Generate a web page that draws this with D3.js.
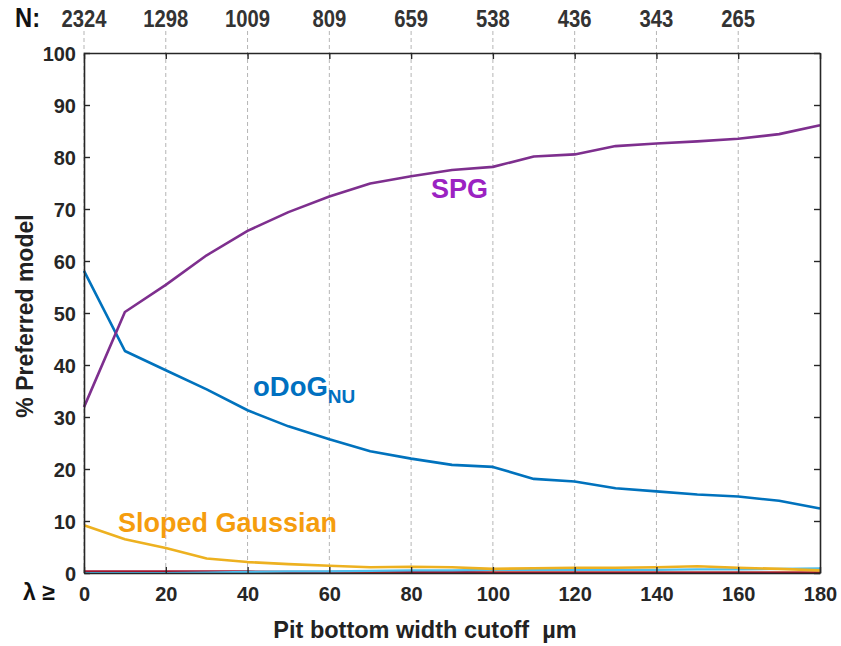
<!DOCTYPE html>
<html>
<head>
<meta charset="utf-8">
<script src="https://cdn.jsdelivr.net/npm/d3@7"></script>
<style>
  html, body { margin: 0; padding: 0; background: #fff; }
  svg { display: block; font-family: "Liberation Sans", Arial, sans-serif; }
</style>
</head>
<body>
<svg id="chart" width="841" height="646"></svg>
<script>
// Pit bottom width cutoff (µm)
const cutoffs = [0, 10, 20, 30, 40, 50, 60, 70, 80, 90, 100, 110, 120, 130, 140, 150, 160, 170, 180];

// % of pits for which each model is preferred
const spg      = [31.9, 50.2, 55.4, 61.1, 65.8, 69.4, 72.4, 74.9, 76.3, 77.5, 78.1, 80.1, 80.5, 82.1, 82.6, 83.0, 83.5, 84.4, 86.1];
const odogNU   = [58.1, 42.7, 39.0, 35.3, 31.3, 28.2, 25.7, 23.4, 22.0, 20.8, 20.4, 18.1, 17.6, 16.3, 15.7, 15.1, 14.7, 13.9, 12.4];
const slopedG  = [9.2, 6.5, 4.8, 2.8, 2.1, 1.7, 1.4, 1.1, 1.2, 1.1, 0.8, 0.9, 1.0, 1.0, 1.1, 1.3, 1.0, 0.8, 0.5];
const lightBlue= [0.0, 0.0, 0.0, 0.1, 0.2, 0.3, 0.3, 0.4, 0.5, 0.5, 0.6, 0.6, 0.6, 0.6, 0.6, 0.7, 0.7, 0.8, 0.9];
const darkRed  = [0.3, 0.3, 0.3, 0.3, 0.3, 0.2, 0.2, 0.3, 0.2, 0.2, 0.1, 0.1, 0.1, 0.1, 0.1, 0.1, 0.1, 0.1, 0.1];
const redOrange= [0.1, 0.1, 0.1, 0.1, 0.1, 0.1, 0.1, 0.1, 0.1, 0.1, 0.1, 0.1, 0.1, 0.1, 0.1, 0.1, 0.1, 0.1, 0.1];
const green    = [0.0, 0.0, 0.0, 0.0, 0.0, 0.0, 0.0, 0.0, 0.0, 0.0, 0.0, 0.0, 0.0, 0.0, 0.0, 0.0, 0.0, 0.0, 0.0];

// Sample counts N at each gridline
const nCutoffs = [0, 20, 40, 60, 80, 100, 120, 140, 160];
const nLabels  = ["2324", "1298", "1009", "809", "659", "538", "436", "343", "265"];

const xTicks = [0, 20, 40, 60, 80, 100, 120, 140, 160, 180];
const yTicks = [0, 10, 20, 30, 40, 50, 60, 70, 80, 90, 100];

const svg = d3.select("#chart");
const m = { left: 84, right: 820, top: 53, bottom: 573 };

const x = d3.scaleLinear().domain([0, 180]).range([m.left, m.right]);
const y = d3.scaleLinear().domain([0, 100]).range([m.bottom, m.top]);

// dashed vertical gridlines, reaching above the box up to the N labels
svg.append("g").selectAll("line")
  .data(xTicks.filter(d => d < 180))
  .join("line")
  .attr("x1", d => x(d)).attr("x2", d => x(d))
  .attr("y1", 31).attr("y2", m.bottom)
  .attr("stroke", "#b5b5b5").attr("stroke-width", 1)
  .attr("stroke-dasharray", "4,3");

// series
const line = vals => d3.line()
  .x((d, i) => x(cutoffs[i]))
  .y(d => y(d))(vals);

const series = [
  { v: green,     c: "#77AC30", w: 2 },
  { v: redOrange, c: "#D95319", w: 2.2 },
  { v: darkRed,   c: "#A2142F", w: 2.2 },
  { v: lightBlue, c: "#4DBEEE", w: 2.2 },
  { v: slopedG,   c: "#EDB120", w: 2.6 },
  { v: odogNU,    c: "#0072BD", w: 2.6 },
  { v: spg,       c: "#7E2F8E", w: 2.6 }
];
svg.append("g").selectAll("path")
  .data(series)
  .join("path")
  .attr("d", s => line(s.v))
  .attr("fill", "none")
  .attr("stroke", s => s.c)
  .attr("stroke-width", s => s.w)
  .attr("stroke-linejoin", "round");

// axes: left and bottom with labels, top and right as plain box sides with inward ticks
const tickCol = "#262626";
const axL = svg.append("g").attr("transform", `translate(${m.left},0)`)
  .call(d3.axisLeft(y).tickValues(yTicks).tickSizeInner(-6).tickSizeOuter(0).tickPadding(8));
const axR = svg.append("g").attr("transform", `translate(${m.right},0)`)
  .call(d3.axisRight(y).tickValues(yTicks).tickSizeInner(-6).tickSizeOuter(0).tickFormat(""));
const axB = svg.append("g").attr("transform", `translate(0,${m.bottom})`)
  .call(d3.axisBottom(x).tickValues(xTicks).tickSizeInner(-6).tickSizeOuter(0).tickPadding(14));
const axT = svg.append("g").attr("transform", `translate(0,${m.top})`)
  .call(d3.axisTop(x).tickValues(xTicks).tickSizeInner(-6).tickSizeOuter(0).tickFormat(""));

[axL, axR, axB, axT].forEach(g => {
  g.select(".domain").attr("stroke", tickCol).attr("stroke-width", 1.6);
  g.selectAll(".tick line").attr("stroke", tickCol).attr("stroke-width", 1.4);
  g.selectAll(".tick text")
    .attr("fill", tickCol)
    .style("font-family", "'Liberation Sans', Arial, sans-serif")
    .style("font-size", "20px")
    .style("font-weight", "bold");
});
axL.selectAll(".tick text").attr("dy", "0.36em");

// λ ≥ marker at the x origin
svg.append("text")
  .attr("x", 23).attr("y", 600)
  .attr("fill", "#111")
  .style("font-size", "23px")
  .style("font-weight", "bold")
  .text("λ ≥");

// N labels along the top, in a condensed face
svg.append("text")
  .attr("transform", "translate(15,27) scale(0.88,1)")
  .attr("fill", "#111")
  .style("font-size", "27px")
  .style("font-weight", "bold")
  .text("N:");
svg.append("g").selectAll("text")
  .data(nCutoffs)
  .join("text")
  .attr("transform", d => `translate(${x(d)},27) scale(0.88,1)`)
  .attr("text-anchor", "middle")
  .attr("fill", "#333")
  .style("font-size", "23px")
  .style("font-weight", "bold")
  .text((d, i) => nLabels[i]);

// axis titles
svg.append("text")
  .attr("x", 425).attr("y", 638)
  .attr("text-anchor", "middle")
  .attr("fill", "#222")
  .style("font-size", "23.5px")
  .style("font-weight", "bold")
  .attr("xml:space", "preserve")
  .text("Pit bottom width cutoff  µm");

svg.append("text")
  .attr("transform", "translate(33,316) rotate(-90)")
  .attr("text-anchor", "middle")
  .attr("fill", "#222")
  .style("font-size", "23px")
  .style("font-weight", "bold")
  .text("% Preferred model");

// series labels
svg.append("text")
  .attr("x", 431).attr("y", 198)
  .attr("fill", "#9B22C2")
  .style("font-size", "27px")
  .style("font-weight", "bold")
  .text("SPG");

const od = svg.append("text")
  .attr("x", 253).attr("y", 396)
  .attr("fill", "#0070C0")
  .style("font-size", "27.5px")
  .style("font-weight", "bold");
od.append("tspan").text("oDoG");
od.append("tspan").attr("dy", 7).style("font-size", "19px").text("NU");

svg.append("text")
  .attr("x", 118).attr("y", 532)
  .attr("fill", "#F59D0E")
  .style("font-size", "27px")
  .style("font-weight", "bold")
  .text("Sloped Gaussian");
</script>
</body>
</html>
